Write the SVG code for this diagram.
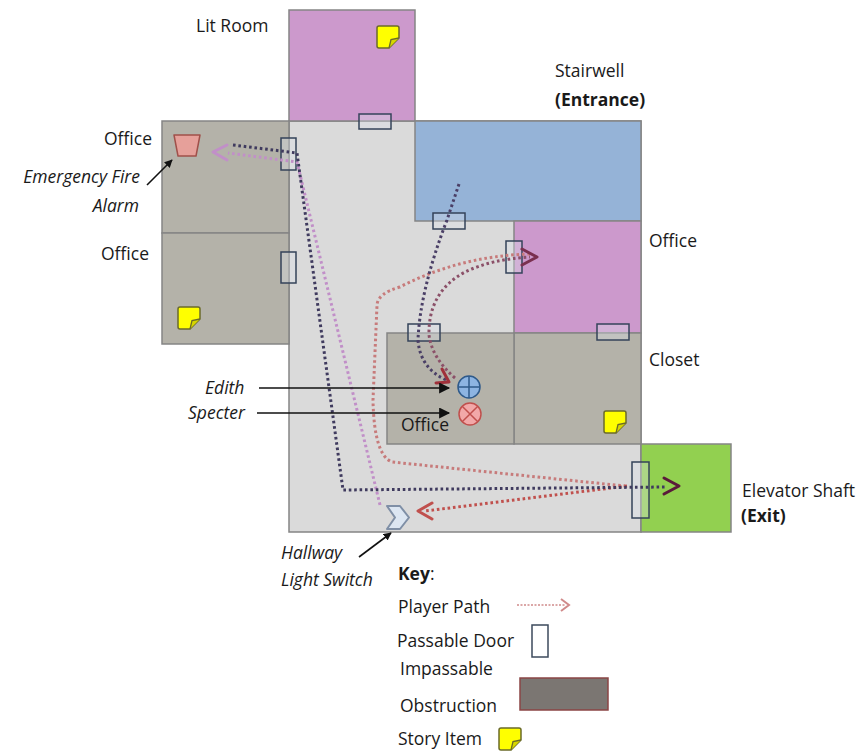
<svg xmlns="http://www.w3.org/2000/svg" xmlns:xlink="http://www.w3.org/1999/xlink" width="860" height="752" viewBox="0 0 860 752">
<style>
.t{font-family:"Open Sans","Liberation Sans",sans-serif;font-size:17.5px;fill:#1a1a1a}
.i{font-style:italic}
.b{font-weight:bold}
.room{stroke:#858585;stroke-width:1.5}
.door{fill:#dce3ec;fill-opacity:0.35;stroke:#34435a;stroke-width:1.5}
.p{fill:none;stroke-width:3;stroke-dasharray:2.6 2.8}
.ah{fill:none;stroke-width:3;stroke-linecap:round;stroke-linejoin:round}
.lbl{stroke:#111;stroke-width:1.6;fill:none}
</style>
<defs>
<g id="note">
<path d="M2,0 H20 Q22,0 22,2 V12 L12,22 H2 Q0,22 0,20 V2 Q0,0 2,0 Z" fill="#ffff00" stroke="#6b6b2a" stroke-width="1.5"/>
<path d="M22,12 L14,13.5 L12,22" fill="#d6d600" stroke="#6b6b2a" stroke-width="1.3"/>
</g>
<marker id="blk" viewBox="0 0 10 10" refX="9" refY="5" markerWidth="8" markerHeight="8" markerUnits="userSpaceOnUse" orient="auto">
<path d="M0,0 L10,5 L0,10 Z" fill="#111"/>
</marker>
<marker id="blk2" viewBox="0 0 10 10" refX="9" refY="5" markerWidth="12" markerHeight="11" markerUnits="userSpaceOnUse" orient="auto">
<path d="M0,0 L10,5 L0,10 Z" fill="#111"/>
</marker>
</defs>

<g id="hallway"><rect x="289" y="121" width="352" height="411" fill="#dadada" class="room"/></g>
<g id="lit-room"><rect x="289" y="10" width="126" height="111" fill="#cc99cc" class="room"/></g>
<g id="stairwell"><rect x="415" y="121" width="226" height="100" fill="#95b3d7" class="room"/></g>
<g id="office-right"><rect x="514" y="221" width="127" height="112" fill="#cc99cc" class="room"/></g>
<g id="closet"><rect x="514" y="333" width="127" height="111" fill="#b4b2a9" class="room"/></g>
<g id="office-center"><rect x="387" y="333" width="127" height="111" fill="#b4b2a9" class="room"/></g>
<g id="elevator"><rect x="641" y="444" width="90" height="88" fill="#92d050" class="room"/></g>
<g id="office-left-top"><rect x="162" y="121" width="127" height="112" fill="#b4b2a9" class="room"/></g>
<g id="office-left-bottom"><rect x="162" y="233" width="127" height="111" fill="#b4b2a9" class="room"/></g>

<g id="doors">
<rect class="door" x="359" y="114" width="32" height="15"/>
<rect class="door" x="281" y="138" width="15" height="32"/>
<rect class="door" x="281" y="252" width="15" height="31"/>
<rect class="door" x="433" y="213" width="32" height="16"/>
<rect class="door" x="506" y="241" width="16" height="32"/>
<rect class="door" x="408" y="324" width="32" height="17"/>
<rect class="door" x="597" y="324" width="32" height="16"/>
<rect class="door" x="632" y="462" width="17" height="56"/>
</g>

<g id="story-items">
<use xlink:href="#note" href="#note" x="377" y="26"/>
<use xlink:href="#note" href="#note" x="178" y="307"/>
<use xlink:href="#note" href="#note" x="604" y="411"/>
</g>

<g id="fire-alarm"><path d="M174,135 H200 L196,156 H178 Z" fill="#e6a09a" stroke="#a0504a" stroke-width="1.5" stroke-linejoin="round"/></g>
<g id="edith"><circle cx="469" cy="387" r="11" fill="#8db4e2" stroke="#2f5a8a" stroke-width="1.5"/><path d="M458,387 H480 M469,376 V398" stroke="#2f5a8a" stroke-width="1.5"/></g>
<g id="specter"><circle cx="470" cy="414" r="11" fill="#f2a8a8" stroke="#c0504d" stroke-width="1.5"/><path d="M462.2,406.2 L477.8,421.8 M477.8,406.2 L462.2,421.8" stroke="#c0504d" stroke-width="1.5"/></g>
<g id="light-switch"><path d="M387,506 H400 L409,517.5 L400,529 H387 L395,517.5 Z" fill="#dce6f2" stroke="#7f8fa6" stroke-width="2" stroke-linejoin="round"/></g>

<g id="connectors">
<path class="p" stroke="#c77b7b" d="M530,254 Q460,256 400,287 Q378,293 377,305 L373,400 Q374,455 392,462 L625,486"/>
<path class="p" stroke="#c0504d" d="M627,486 L425,511"/>
<path class="p" stroke="#c18fc8" d="M380,505 L297,162 L228,153"/>
<path class="p" stroke="#3f3a5e" d="M233,145 L297,153 L343,490 L665,487"/>
<path class="p" stroke="#4a3f66" d="M459,184 L447,220 Q420,290 418,340 Q420,368 446,380"/>
<path class="p" stroke="#8b5068" d="M455,378 Q432,358 429,335 Q428,292 465,272 Q492,259 530,257"/>
<polyline class="ah" stroke="#c18fc8" points="227,145 213,152 227,160"/>
<polyline class="ah" stroke="#7a3050" points="522,249 537,257 522,265"/>
<polyline class="ah" stroke="#a0303a" points="442,369 449,382 436,383"/>
<polyline class="ah" stroke="#5a1a3a" points="664,478 679,486 664,494"/>
<polyline class="ah" stroke="#c0504d" points="432,503 418,511 432,519"/>
<line class="lbl" x1="147" y1="185" x2="172" y2="160" marker-end="url(#blk)"/>
<line class="lbl" x1="259" y1="388" x2="449" y2="388" marker-end="url(#blk2)"/>
<line class="lbl" x1="257" y1="413" x2="449" y2="413" marker-end="url(#blk2)"/>
<line class="lbl" x1="359" y1="557" x2="391" y2="533" marker-end="url(#blk)"/>
</g>

<g id="labels">
<text class="t" x="196" y="32">Lit Room</text>
<text class="t" x="555" y="77">Stairwell</text>
<text class="t b" x="555" y="106">(Entrance)</text>
<text class="t" x="152" y="145" text-anchor="end">Office</text>
<text class="t i" x="140" y="183" text-anchor="end">Emergency Fire</text>
<text class="t i" x="139" y="212" text-anchor="end">Alarm</text>
<text class="t" x="149" y="260" text-anchor="end">Office</text>
<text class="t" x="649" y="247">Office</text>
<text class="t" x="649" y="366">Closet</text>
<text class="t i" x="205" y="394">Edith</text>
<text class="t i" x="188" y="419">Specter</text>
<text class="t" x="401" y="431">Office</text>
<text class="t" x="742" y="497">Elevator Shaft</text>
<text class="t b" x="741" y="522">(Exit)</text>
<text class="t i" x="281" y="559">Hallway</text>
<text class="t i" x="281" y="586">Light Switch</text>
</g>

<g id="key">
<text class="t" x="398" y="580"><tspan class="b">Key</tspan>:</text>
<text class="t" x="398" y="613">Player Path</text>
<line x1="517" y1="605" x2="565" y2="605" stroke="#d08a8a" stroke-width="1.5" stroke-dasharray="2 1.5"/>
<polyline points="561,599 569,605 561,611" fill="none" stroke="#d08a8a" stroke-width="2"/>
<text class="t" x="397" y="647">Passable Door</text>
<rect x="532" y="625" width="16" height="32" fill="#fff" stroke="#3d4a5c" stroke-width="1.5"/>
<text class="t" x="400" y="675">Impassable</text>
<text class="t" x="400" y="712">Obstruction</text>
<rect x="520" y="678" width="88" height="32" fill="#7b7672" stroke="#8b4545" stroke-width="1.5"/>
<text class="t" x="398" y="745">Story Item</text>
<use xlink:href="#note" href="#note" x="499" y="728"/>
</g>
</svg>
